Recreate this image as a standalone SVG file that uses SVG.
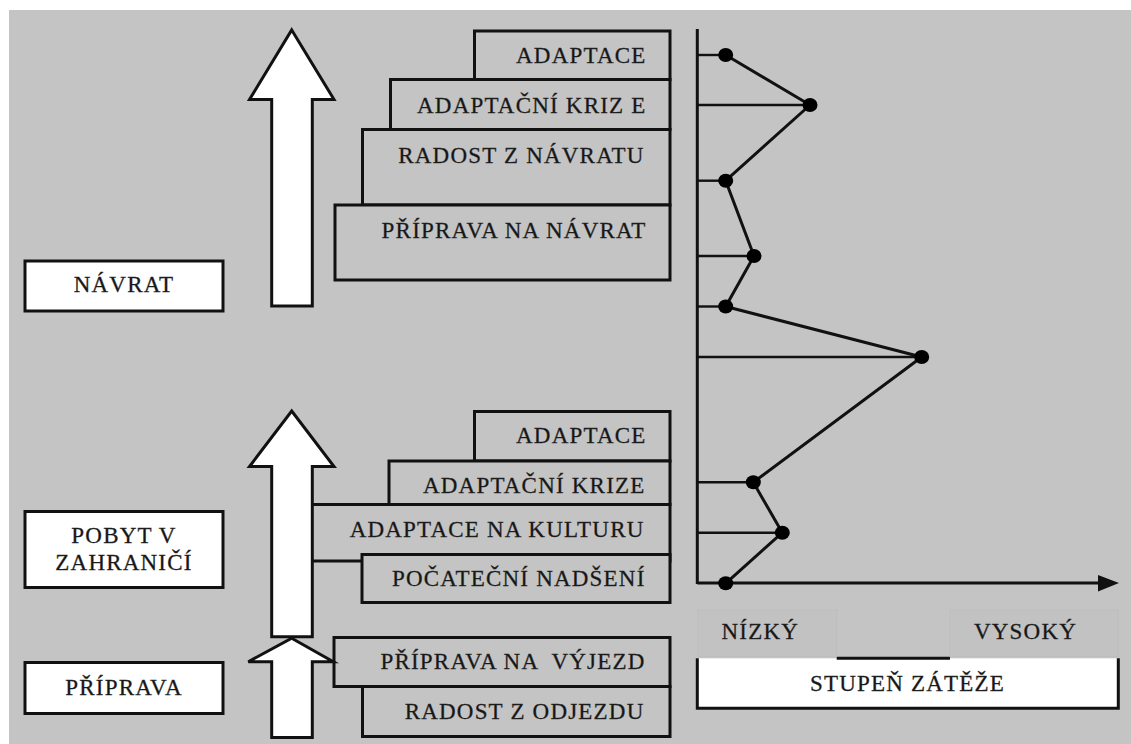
<svg xmlns="http://www.w3.org/2000/svg" width="1131" height="744" viewBox="0 0 1131 744">
<style>
.bg{fill:#c4c4c4}
.box{fill:#c4c4c4;stroke:#111;stroke-width:3}
.wbox{fill:#fff;stroke:#111;stroke-width:3}
.arr{fill:#fff;stroke:#111;stroke-width:3;stroke-linejoin:miter}
.t{font-family:"Liberation Serif","Times New Roman",serif;font-size:23px;letter-spacing:1.2px;fill:#161616;stroke:#2a2a2a;stroke-width:0.3}
.r{text-anchor:end}
.m{text-anchor:middle}
.tick{stroke:#111;stroke-width:2.4;fill:none}
.axis{stroke:#111;stroke-width:3;fill:none}
.curve{stroke:#111;stroke-width:3;fill:none;stroke-linejoin:round}
.dot{fill:#000}
.lbl{fill:#c2c2c2;stroke:#bdbdbd;stroke-width:1}
</style>
<rect x="0" y="0" width="1131" height="744" fill="#fff"/>
<rect class="bg" x="9" y="10" width="1122" height="734"/>

<!-- top group: return -->
<g id="n-adaptace-top">
<rect class="box" x="474.5" y="31" width="195.5" height="48.5"/>
<text class="t r" x="646.5" y="62.5">ADAPTACE</text>
</g>
<g id="n-krize-top">
<rect class="box" x="390.5" y="79.5" width="279.5" height="50"/>
<text class="t r" x="646.5" y="112.5">ADAPTAČNÍ KRIZ E</text>
</g>
<g id="n-radost-navrat">
<rect class="box" x="362.5" y="129.5" width="307.5" height="75.5"/>
<text class="t r" x="644.5" y="162.5">RADOST Z NÁVRATU</text>
</g>
<g id="n-priprava-navrat">
<rect class="box" x="335" y="205" width="335" height="75"/>
<text class="t r" x="646.5" y="238">PŘÍPRAVA NA NÁVRAT</text>
</g>

<!-- middle group: stay abroad -->
<g id="n-adaptace-mid">
<rect class="box" x="474.5" y="411.5" width="195.5" height="49.5"/>
<text class="t r" x="646.5" y="442.5">ADAPTACE</text>
</g>
<g id="n-krize-mid">
<rect class="box" x="389" y="461" width="281" height="43.5"/>
<text class="t r" x="645.5" y="493">ADAPTAČNÍ KRIZE</text>
</g>
<g id="n-kultura">
<rect class="box" x="300" y="504.5" width="370" height="56.5"/>
<text class="t r" x="644.5" y="536.5">ADAPTACE NA KULTURU</text>
</g>
<g id="n-nadseni">
<rect class="box" x="362" y="554.5" width="308" height="48"/>
<text class="t r" x="645.5" y="586">POČATEČNÍ NADŠENÍ</text>
</g>

<!-- bottom group: preparation -->
<g id="n-priprava-vyjezd">
<rect class="box" x="334" y="637.5" width="336" height="49"/>
<text class="t r" x="645.5" y="669" style="white-space:pre">PŘÍPRAVA NA  VÝJEZD</text>
</g>
<g id="n-radost-odjezd">
<rect class="box" x="362.5" y="686.5" width="307.5" height="50"/>
<text class="t r" x="644.5" y="719">RADOST Z ODJEZDU</text>
</g>

<!-- block arrows -->
<g id="connectors">
<polygon class="arr" points="291.7,30 334,99.5 312.3,99.5 312.3,306 271.7,306 271.7,99.5 249.5,99.5"/>
<polygon class="arr" points="291.7,411 334,466.5 312.3,466.5 312.3,636.7 271.7,636.7 271.7,466.5 249.5,466.5"/>
<polygon class="arr" points="291.7,638.3 333.3,661.7 312.3,661.7 312.3,737.5 271.7,737.5 271.7,661.7 248.3,661.7"/>
</g>

<!-- phase labels -->
<g id="n-navrat">
<rect class="wbox" x="25" y="261" width="198" height="50"/>
<text class="t m" x="124" y="292">NÁVRAT</text>
</g>
<g id="n-pobyt">
<rect class="wbox" x="25" y="511.5" width="198" height="76"/>
<text class="t m" x="124" y="543">POBYT V</text>
<text class="t m" x="124" y="570">ZAHRANIČÍ</text>
</g>
<g id="n-priprava">
<rect class="wbox" x="25" y="662.5" width="198" height="51"/>
<text class="t m" x="124" y="695">PŘÍPRAVA</text>
</g>

<!-- chart -->
<g id="chart">
<line class="axis" x1="697.3" y1="29" x2="697.3" y2="584"/>
<line class="axis" x1="697.3" y1="583" x2="1100" y2="583"/>
<polygon points="1098,575 1119,583 1098,591.5" fill="#111"/>
<line class="tick" x1="697" y1="55" x2="725.7" y2="55"/>
<line class="tick" x1="697" y1="105" x2="810" y2="105"/>
<line class="tick" x1="697" y1="180.7" x2="725.7" y2="180.7"/>
<line class="tick" x1="697" y1="256" x2="754" y2="256"/>
<line class="tick" x1="697" y1="306.5" x2="725.7" y2="306.5"/>
<line class="tick" x1="697" y1="357" x2="921.7" y2="357"/>
<line class="tick" x1="697" y1="482.3" x2="753.3" y2="482.3"/>
<line class="tick" x1="697" y1="532.7" x2="782.3" y2="532.7"/>
<polyline class="curve" points="725.7,55 810,105 725.7,180.7 754,256 725.7,306.5 921.7,357 753.3,482.3 782.3,532.7 725.7,583.3"/>
<ellipse class="dot" cx="725.7" cy="55" rx="7.5" ry="7"/>
<ellipse class="dot" cx="810" cy="105" rx="7.5" ry="7"/>
<ellipse class="dot" cx="725.7" cy="180.7" rx="7.5" ry="7"/>
<ellipse class="dot" cx="754" cy="256" rx="7.5" ry="7"/>
<ellipse class="dot" cx="725.7" cy="306.5" rx="7.5" ry="7"/>
<ellipse class="dot" cx="921.7" cy="357" rx="7.5" ry="7"/>
<ellipse class="dot" cx="753.3" cy="482.3" rx="7.5" ry="7"/>
<ellipse class="dot" cx="782.3" cy="532.7" rx="7.5" ry="7"/>
<ellipse class="dot" cx="725.7" cy="583.3" rx="7.5" ry="7"/>
</g>

<g id="n-stupen">
<rect x="697.3" y="658.3" width="421" height="50" fill="#fff"/>
<path d="M697.3,658.3 V708.3 H1118.3 V658.3 M836.7,658.3 H950" fill="none" stroke="#111" stroke-width="3"/>
<text class="t m" x="907.5" y="691">STUPEŇ ZÁTĚŽE</text>
</g>
<g id="n-nizky">
<rect class="lbl" x="698" y="610" width="138.7" height="46.5"/>
<text class="t" x="721.5" y="639.3">NÍZKÝ</text>
</g>
<g id="n-vysoky">
<rect class="lbl" x="950" y="610" width="168.3" height="46.5"/>
<text class="t" x="974" y="639.3">VYSOKÝ</text>
</g>
</svg>
